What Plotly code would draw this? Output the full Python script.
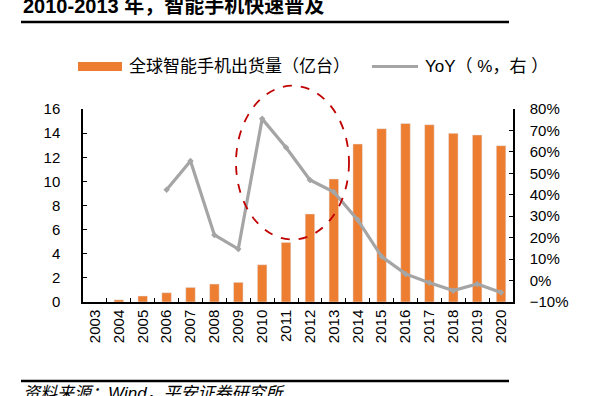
import plotly.graph_objects as go

years = [str(y) for y in range(2003, 2021)]
shipments = [None, 0.18, 0.5, 0.77, 1.21, 1.49, 1.63, 3.09, 4.94, 7.3, 10.2, 13.1, 14.37, 14.8, 14.7, 13.98, 13.85, 12.96]
yoy = [None, None, None, 42.3, 55.8, 21.3, 14.7, 75.4, 62.0, 46.9, 41.3, 28.3, 11.2, 3.1, -1.0, -4.7, -1.6, -5.6]

bar_name = "全球智能手机出货量（亿台）"
line_name = "YoY（%，右）"
title_text = "2010-2013 年，智能手机快速普及"
source_text = "资料来源：Wind，平安证券研究所"

ORANGE = "#ED7D31"
GREY = "#A5A5A5"
FONT = "Liberation Sans, Arial, Noto Sans CJK SC"
CJK = "Liberation Sans, Noto Sans CJK SC"

fig = go.Figure()
fig.add_trace(go.Bar(x=years, y=shipments, name=bar_name, marker_color=ORANGE,
                     width=0.4, yaxis="y"))
fig.add_trace(go.Scatter(x=years, y=yoy, name=line_name, mode="lines+markers",
                         line=dict(color=GREY, width=3.2),
                         marker=dict(symbol="diamond", size=5, color=GREY),
                         yaxis="y2"))

W, H = 605, 396
L, R, T, B = 83, 92, 109, 94
pw, ph = W - L - R, H - T - B

def px(x):
    return (x - L) / pw

def py(y):
    return (H - B - y) / ph

shapes = [
    dict(type="line", xref="paper", yref="paper", x0=px(21), x1=px(509), y0=py(22), y1=py(22),
         line=dict(color="black", width=2.5)),
    dict(type="line", xref="paper", yref="paper", x0=px(21), x1=px(509), y0=py(381), y1=py(381),
         line=dict(color="black", width=2.5)),
    dict(type="rect", xref="paper", yref="paper", x0=px(78), x1=px(122), y0=py(71), y1=py(62),
         fillcolor=ORANGE, line=dict(width=0)),
    dict(type="line", xref="paper", yref="paper", x0=px(372), x1=px(418), y0=py(66.5), y1=py(66.5),
         line=dict(color=GREY, width=3)),
    dict(type="circle", xref="paper", yref="paper", x0=px(236), x1=px(349), y0=py(239.5), y1=py(85.7),
         line=dict(color="#C00000", width=1.8, dash="dash")),
]

annotations = [
    dict(text="<b>" + title_text + "</b>", xref="paper", yref="paper", x=px(21), y=py(6),
         xanchor="left", yanchor="middle", showarrow=False,
         font=dict(family=CJK, size=20, color="black")),
    dict(text="<i>" + source_text + "</i>", xref="paper", yref="paper", x=px(21), y=py(393),
         xanchor="left", yanchor="middle", showarrow=False,
         font=dict(family=CJK, size=17, color="black")),
    dict(text=bar_name, xref="paper", yref="paper", x=px(127), y=py(66.5),
         xanchor="left", yanchor="middle", showarrow=False,
         font=dict(family=CJK, size=17, color="black")),
    dict(text=line_name.replace("（", "（ ").replace("）", " ）"), xref="paper", yref="paper",
         x=px(423), y=py(66.5), xanchor="left", yanchor="middle", showarrow=False,
         font=dict(family=CJK, size=17, color="black")),
]

fig.update_layout(
    width=W, height=H,
    margin=dict(l=L, r=R, t=T, b=B, pad=0),
    paper_bgcolor="white", plot_bgcolor="white",
    showlegend=False,
    font=dict(family=FONT, size=15, color="black"),
    bargap=0.6,
    shapes=shapes,
    annotations=annotations,
    xaxis=dict(type="category", showline=True, linecolor="black", linewidth=1.5,
               ticks="inside", ticklen=4, tickcolor="black", tickson="boundaries",
               tickangle=-90, tickfont=dict(size=15), showgrid=False, zeroline=False,
               range=[-0.5, 17.5]),
    yaxis=dict(range=[0, 16], dtick=2, showline=True, linecolor="black", linewidth=1.5,
               ticks="inside", ticklen=4, tickcolor="black", showgrid=False, zeroline=False,
               tickfont=dict(size=15), ticklabelstandoff=18),
    yaxis2=dict(range=[-10, 80], dtick=10, overlaying="y", side="right", ticksuffix="%",
                showline=True, linecolor="black", linewidth=1.5, ticks="inside", ticklen=4,
                tickcolor="black", showgrid=False, zeroline=False,
                tickfont=dict(size=15), ticklabelstandoff=12),
)

fig.write_html("out.html", config={"displayModeBar": False},
               post_script="document.body.style.margin='0';document.body.style.overflow='hidden';")
